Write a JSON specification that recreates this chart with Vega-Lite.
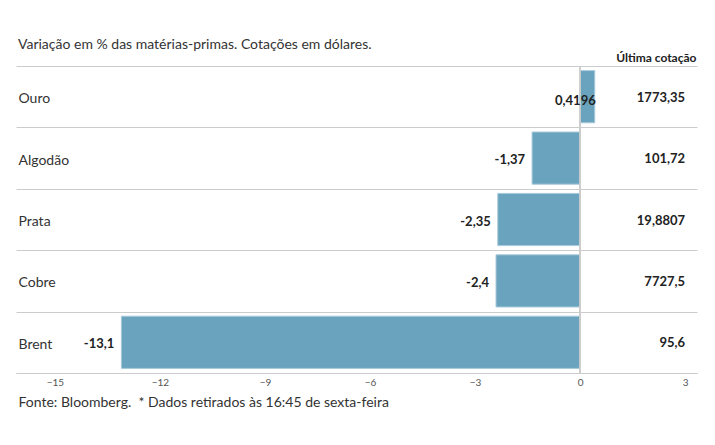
{
  "$schema": "https://vega.github.io/schema/vega-lite/v6.json",
  "width": 681,
  "height": 307,
  "autosize": {"type": "none"},
  "padding": {"left": 16, "top": 66, "right": 18, "bottom": 72},
  "config": {
    "font": "Lato, sans-serif",
    "view": {"stroke": null}
  },
  "title": {
    "text": "Variação em % das matérias-primas. Cotações em dólares.",
    "anchor": "start",
    "offset": 6,
    "dx": 2,
    "dy": 7,
    "fontSize": 14,
    "fontWeight": "normal",
    "color": "#333"
  },
  "data": {
    "values": [
      {"materia": "Ouro", "variacao": 0.4196, "label": "0,4196", "cotacao": "1773,35"},
      {"materia": "Algodão", "variacao": -1.37, "label": "-1,37", "cotacao": "101,72"},
      {"materia": "Prata", "variacao": -2.35, "label": "-2,35", "cotacao": "19,8807"},
      {"materia": "Cobre", "variacao": -2.4, "label": "-2,4", "cotacao": "7727,5"},
      {"materia": "Brent", "variacao": -13.1, "label": "-13,1", "cotacao": "95,6"}
    ]
  },
  "encoding": {
    "y": {
      "field": "materia",
      "type": "nominal",
      "sort": null,
      "scale": {"paddingInner": 0, "paddingOuter": 0},
      "axis": {
        "title": null,
        "domain": false,
        "ticks": false,
        "tickSize": 0,
        "grid": true,
        "tickBand": "extent",
        "gridColor": "#cccccc",
        "labelAlign": "left",
        "labelPadding": -2,
        "labelOffset": 2,
        "labelFontSize": 14,
        "labelColor": "#333"
      }
    }
  },
  "layer": [
    {
      "mark": {"type": "bar", "color": "#6aa3be", "stroke": "#a8cadb", "strokeWidth": 1, "height": {"band": 0.85}},
      "encoding": {
        "x": {
          "field": "variacao",
          "type": "quantitative",
          "scale": {"domain": [-16.11, 3.34], "nice": false, "zero": false},
          "axis": {
            "orient": "bottom",
            "values": [-15, -12, -9, -6, -3, 0, 3],
            "grid": false,
            "ticks": false,
            "domainColor": "#cccccc",
            "labelFontSize": 10,
            "labelColor": "#555",
            "labelPadding": 4,
            "title": "Fonte: Bloomberg.\u00a0 * Dados retirados às 16:45 de sexta-feira",
            "titleAnchor": "start",
            "titleAlign": "left",
            "titleBaseline": "middle",
            "titleX": 2,
            "titleY": 29,
            "titleFontSize": 14,
            "titleFontWeight": "normal",
            "titleColor": "#333"
          }
        }
      }
    },
    {
      "mark": {"type": "rule", "color": "#cccccc"},
      "encoding": {
        "x": {
          "datum": 0,
          "type": "quantitative",
          "axis": {
            "orient": "top",
            "labels": false,
            "ticks": false,
            "domain": false,
            "grid": false,
            "title": "Última cotação",
            "titleAnchor": "end",
            "titleAlign": "right",
            "titleBaseline": "middle",
            "titleX": 680,
            "titleY": -9,
            "titleFontSize": 12,
            "titleFontWeight": "bold",
            "titleColor": "#222"
          }
        },
        "y": null
      }
    },
    {
      "transform": [{"filter": "datum.variacao < 0"}],
      "mark": {"type": "text", "align": "right", "baseline": "middle", "dx": -7, "dy": 2, "fontSize": 13, "fontWeight": "bold", "color": "#222"},
      "encoding": {
        "x": {"field": "variacao", "type": "quantitative", "axis": null},
        "text": {"field": "label"}
      }
    },
    {
      "transform": [{"filter": "datum.variacao >= 0"}],
      "mark": {"type": "text", "align": "right", "baseline": "middle", "dx": 1, "dy": 4, "fontSize": 13, "fontWeight": "bold", "color": "#222"},
      "encoding": {
        "x": {"field": "variacao", "type": "quantitative", "axis": null},
        "text": {"field": "label"}
      }
    },
    {
      "mark": {"type": "text", "align": "right", "baseline": "middle", "dy": 1, "fontSize": 13, "fontWeight": "bold", "color": "#222"},
      "encoding": {
        "x": {"datum": 3, "type": "quantitative", "axis": null},
        "text": {"field": "cotacao"}
      }
    }
  ],
  "resolve": {"axis": {"x": "independent"}}
}
